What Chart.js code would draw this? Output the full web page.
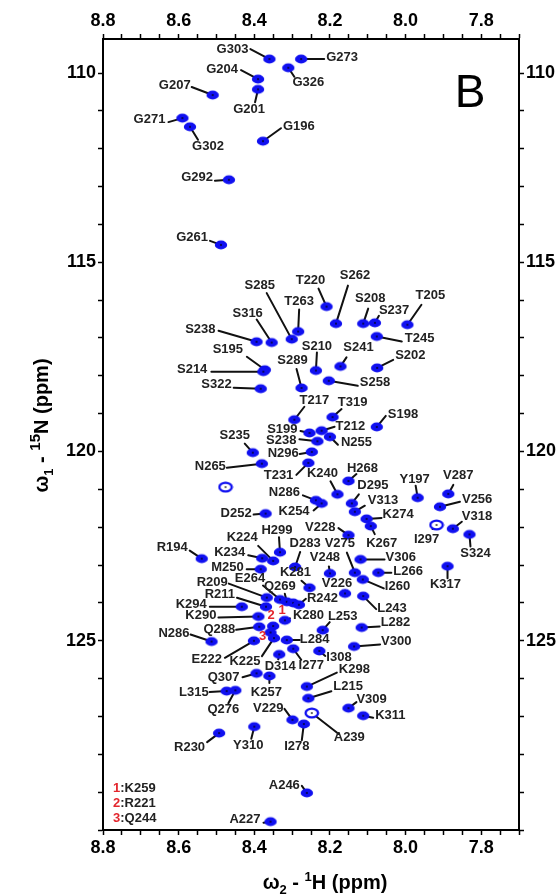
<!DOCTYPE html>
<html>
<head>
<meta charset="utf-8">
<script src="https://cdn.jsdelivr.net/npm/chart.js@4.4.1/dist/chart.umd.min.js"></script>
<style>
  html, body { margin: 0; padding: 0; background: #fff; }
  #wrap { width: 560px; height: 895px; }
</style>
</head>
<body>
<div id="wrap"><canvas id="hsqc" width="560" height="895"></canvas></div>
<script>
// peak assignments, 1H shift (ppm), 15N shift (ppm)
const peakNames = [
  'G303','G273','G326','G204','G201','G207','G271','G302','G196','G292',
  'G261','T220','S262','S208','S237','T205','T263','S285','S316','S238',
  'T245','S241','S202','S195','S214','S210','S258','S289','S322','T217',
  'T319','S198','S199','T212','N255','S238','S235','N296','N265','T231',
  '','H268','K240','Y197','V287','V256','N286','K254','D295','V313',
  'D252','K274','K267','I297','V318','S324','V228','H299','K224','K234',
  'R194','D283','M250','V306','V275','V248','L266','K317','I260','K281',
  'V226','L243','R209','E264','Q269','K259','R242','K294','R211','K290',
  'K280','Q288','R221','Q244','L253','L282','K225','E222','N286','L284',
  'V300','I277','I308','D314','Q307','K257','K298','L315','Q276','L215',
  'V309','K311','A239','V229','I278','Y310','R230','A246','A227'
];
const peakH = [
  8.360, 8.276, 8.310, 8.390, 8.390, 8.510, 8.590, 8.570, 8.377, 8.467,
  8.488, 8.209, 8.184, 8.112, 8.081, 7.995, 8.284, 8.301, 8.354, 8.394,
  8.076, 8.172, 8.075, 8.372, 8.376, 8.237, 8.203, 8.275, 8.383, 8.294,
  8.193, 8.076, 8.254, 8.222, 8.200, 8.233, 8.404, 8.248, 8.380, 8.257,
  8.476, 8.151, 8.180, 7.968, 7.887, 7.909, 8.237, 8.222, 8.142, 8.134,
  8.370, 8.103, 8.092, 7.918, 7.875, 7.831, 8.151, 8.332, 8.350, 8.379,
  8.539, 8.292, 8.383, 8.119, 8.134, 8.200, 8.072, 7.889, 8.113, 8.254,
  8.160, 8.112, 8.367, 8.332, 8.314, 8.297, 8.282, 8.433, 8.369, 8.389,
  8.319, 8.387, 8.350, 8.357, 8.219, 8.116, 8.348, 8.401, 8.513, 8.314,
  8.136, 8.297, 8.228, 8.334, 8.394, 8.360, 8.261, 8.473, 8.450, 8.257,
  8.151, 8.112, 8.248, 8.299, 8.269, 8.400, 8.493, 8.261, 8.357
];
const peakN = [
  109.63, 109.63, 109.86, 110.16, 110.43, 110.58, 111.19, 111.42, 111.80, 112.82,
  114.54, 116.17, 116.62, 116.62, 116.60, 116.65, 116.83, 117.03, 117.12, 117.10,
  116.96, 117.75, 117.79, 117.84, 117.89, 117.86, 118.13, 118.32, 118.34, 119.16,
  119.09, 119.35, 119.51, 119.45, 119.61, 119.73, 120.03, 120.01, 120.32, 120.30,
  120.94, 120.78, 121.13, 121.22, 121.12, 121.46, 121.29, 121.37, 121.37, 121.59,
  121.64, 121.78, 121.97, 121.94, 122.04, 122.19, 122.21, 122.66, 122.89, 122.82,
  122.83, 123.05, 123.11, 122.85, 123.20, 123.22, 123.20, 123.03, 123.38, 123.60,
  123.75, 123.82, 123.86, 123.91, 123.97, 124.00, 124.05, 124.10, 124.10, 124.36,
  124.46, 124.63, 124.61, 124.78, 124.72, 124.65, 124.93, 125.00, 125.02, 124.98,
  125.15, 125.21, 125.27, 125.36, 125.86, 125.93, 126.21, 126.33, 126.31, 126.52,
  126.78, 126.98, 126.91, 127.09, 127.20, 127.27, 127.44, 129.02, 129.78
];
// crowded peaks that carry a red number instead of a name
const numberedPeaks = { K259: '1', R221: '2', Q244: '3' };
const hollowPeaks = ['', 'I297', 'A239'];

// label layout, pixels from the peak: leader end x,y, text x,y, alignment
const labelPos = [
  [-19,-10,-21,-10,'r'], [23,0,25,-2,'l'], [6,9,20,15,'c'], [-17,-9,-20,-10,'r'], [-3,13,-9,20,'c'],
  [-21,-8,-22,-10,'r'], [-14,4,-17,1,'r'], [8,13,18,20,'c'], [18,-13,20,-15,'l'], [-14,1,-16,-2,'r'],
  [-11,-4,-13,-7,'r'], [-8,-18,-16,-26,'c'], [12,-38,19,-48,'c'], [5,-15,7,-25,'c'], [4,-7,4,-12,'l'],
  [14,-20,23,-29,'c'], [1,-22,1,-30,'c'], [-25,-46,-32,-54,'c'], [-15,-23,-24,-29,'c'], [-38,-11,-41,-12,'r'],
  [25,5,28,2,'l'], [6,-9,18,-19,'c'], [16,-8,18,-12,'l'], [-18,-13,-37,-20,'c'], [-52,0,-56,-2,'r'],
  [1,-18,1,-24,'c'], [29,5,31,2,'l'], [-5,-19,-9,-28,'c'], [-27,-1,-29,-4,'r'], [10,-13,20,-19,'c'],
  [9,-8,20,-15,'c'], [9,-11,11,-13,'l'], [-9,-2,-12,-4,'r'], [13,-4,14,-4,'l'], [8,8,11,6,'l'],
  [-18,-2,-21,-1,'r'], [-8,-9,-18,-17,'c'], [-12,2,-13,2,'r'], [-35,4,-36,3,'r'], [-12,12,-15,13,'r'],
  null, [8,-7,14,-13,'c'], [-7,-13,-15,-21,'c'], [-2,-12,-3,-18,'c'], [5,-9,10,-18,'c'],
  [20,-5,22,-7,'l'], [-13,-5,-16,-8,'r'], [-8,7,-12,8,'r'], [7,-9,21,-18,'c'], [10,-6,13,-11,'l'],
  [-12,1,-14,0,'r'], [15,-1,16,-4,'l'], [4,8,11,17,'c'], [-4,4,-10,14,'c'], [9,-7,9,-12,'l'],
  [1,12,6,19,'c'], [-10,-7,-13,-8,'r'], [-1,-15,-3,-22,'c'], [-15,-15,-31,-23,'c'], [-14,-3,-17,-6,'r'],
  [-12,-8,-14,-11,'r'], [5,-15,10,-24,'c'], [-14,0,-17,-2,'r'], [24,0,25,-2,'l'], [-8,-20,-15,-29,'c'],
  [-1,-7,-5,-16,'c'], [13,0,15,-1,'l'], [0,12,-2,18,'c'], [21,9,22,7,'l'], [-8,-7,-14,-15,'c'],
  [0,-3,-8,-10,'c'], [13,13,14,12,'l'], [-38,-14,-39,-15,'r'], [-17,-14,-30,-21,'c'], [-2,-8,-7,-15,'c'],
  [0,0,-11,8,'c'], [7,-6,8,-6,'l'], [-32,0,-35,-2,'r'], [-29,-9,-31,-12,'r'], [-40,1,-42,-1,'r'],
  [5,-2,8,-5,'l'], [-23,3,-24,3,'r'], [0,0,-2,-11,'c'], [0,0,-8,4,'c'], [7,-8,20,-14,'c'],
  [18,-1,19,-5,'l'], [-12,18,-29,23,'c'], [-29,17,-32,19,'r'], [-21,-7,-22,-8,'r'], [13,0,13,-1,'l'],
  [26,-2,27,-5,'l'], [8,11,18,17,'c'], [6,5,7,6,'l'], [-1,5,1,12,'c'], [-14,4,-17,4,'r'],
  [0,7,-3,16,'c'], [30,-14,32,-17,'l'], [-17,1,-18,1,'r'], [-7,13,-12,19,'c'], [23,-7,25,-12,'l'],
  [8,-6,8,-9,'l'], [10,2,12,0,'l'], [27,21,22,24,'l'], [-8,-11,-9,-11,'r'], [-2,16,-7,22,'c'],
  [-3,12,-6,19,'c'], [-12,9,-14,14,'r'], [-5,-7,-7,-7,'r'], [-7,1,-10,-2,'r']
];

const FONT = '"Liberation Sans", Arial, sans-serif';
const BLUE = '#1010f0';

// tick positions: every 0.05 ppm in 1H, every 1 ppm in 15N
const xTickVals = [];
for (let i = 0; i <= 22; i++) xTickVals.push(Math.round((7.7 + i * 0.05) * 100) / 100);
const yTickVals = [];
for (let v = 110; v <= 130; v++) yTickVals.push(v);

function peakImage(hollow) {
  const c = document.createElement('canvas');
  c.width = 16; c.height = 12;
  const g = c.getContext('2d');
  g.beginPath();
  g.ellipse(8, 6, 6.2, 4.4, 0, 0, Math.PI * 2);
  if (hollow) {
    g.fillStyle = '#fff'; g.fill();
    g.lineWidth = 2.4; g.strokeStyle = BLUE; g.stroke();
  } else {
    g.fillStyle = BLUE; g.fill();
  }
  g.strokeStyle = 'rgba(0,0,0,0.75)'; g.lineWidth = 0.8;
  g.beginPath(); g.moveTo(7, 5); g.lineTo(9, 7); g.moveTo(9, 5); g.lineTo(7, 7); g.stroke();
  return c;
}
const solidPeak = peakImage(false);
const hollowPeak = peakImage(true);

const tickFont = { family: FONT, size: 18, weight: 'bold' };
function xAxis(pos, h) {
  return {
    type: 'linear', position: pos, min: 7.7, max: 8.8, reverse: true,
    afterBuildTicks: s => { s.ticks = xTickVals.map(v => ({ value: v })); },
    afterFit: s => { s.height = h; },
    ticks: {
      autoSkip: false, maxRotation: 0, color: '#000', font: tickFont, padding: 2,
      callback: v => (Math.round(v * 100) % 20 === 0 ? v.toFixed(1) : '')
    },
    grid: { drawOnChartArea: false, drawTicks: true, tickLength: 5, tickColor: '#000', tickWidth: 1.5 },
    border: { display: true, color: '#000', width: 2 }
  };
}
function yAxis(pos, w) {
  return {
    type: 'linear', position: pos, min: 109.1, max: 130, reverse: true,
    afterBuildTicks: s => { s.ticks = yTickVals.map(v => ({ value: v })); },
    afterFit: s => { s.width = w; },
    ticks: {
      autoSkip: false, color: '#000', font: tickFont, padding: 2,
      callback: v => (v % 5 === 0 && v < 130 ? String(v) : '')
    },
    grid: { drawOnChartArea: false, drawTicks: true, tickLength: 5, tickColor: '#000', tickWidth: 1.5 },
    border: { display: true, color: '#000', width: 2 }
  };
}

const peakLabels = {
  id: 'peakLabels',
  beforeDraw(chart) {
    const g = chart.ctx;
    g.save(); g.fillStyle = '#fff'; g.fillRect(0, 0, chart.width, chart.height); g.restore();
  },
  beforeDatasetsDraw(chart) {
    const g = chart.ctx, meta = chart.getDatasetMeta(0);
    g.save();
    g.strokeStyle = '#111'; g.lineWidth = 2; g.lineCap = 'round';
    meta.data.forEach((pt, i) => {
      const p = labelPos[i];
      if (!p || (p[0] === 0 && p[1] === 0)) return;
      g.beginPath(); g.moveTo(pt.x, pt.y); g.lineTo(pt.x + p[0], pt.y + p[1]); g.stroke();
    });
    g.restore();
  },
  afterDatasetsDraw(chart) {
    const g = chart.ctx, meta = chart.getDatasetMeta(0), a = chart.chartArea;
    g.save();
    g.textBaseline = 'middle';
    meta.data.forEach((pt, i) => {
      const p = labelPos[i];
      if (!p) return;
      const name = peakNames[i];
      const num = numberedPeaks[name];
      g.font = 'bold 13px ' + FONT;
      g.fillStyle = num ? '#e3262d' : '#222';
      g.textAlign = p[4] === 'r' ? 'right' : p[4] === 'l' ? 'left' : 'center';
      g.fillText(num || name, pt.x + p[2], pt.y + p[3]);
    });
    // key for the red numbers
    g.textAlign = 'left';
    Object.keys(numberedPeaks).forEach((k, j) => {
      const y = a.bottom - 42 + j * 15;
      g.font = 'bold 13px ' + FONT;
      g.fillStyle = '#e3262d';
      g.fillText(numberedPeaks[k], a.left + 10, y);
      const w = g.measureText(numberedPeaks[k]).width;
      g.fillStyle = '#222';
      g.fillText(':' + k, a.left + 10 + w, y);
    });
    // panel letter
    g.fillStyle = '#000';
    g.font = '46px ' + FONT;
    g.textAlign = 'center';
    g.fillText('B', a.right - 49, a.top + 55);
    g.restore();
  },
  afterDraw(chart) {
    const g = chart.ctx, a = chart.chartArea;
    g.save();
    g.fillStyle = '#000';
    g.textBaseline = 'alphabetic';
    g.textAlign = 'left';
    // bottom title: omega2 - 1H (ppm)
    const pieces = [
      ['\u03c9', 'bold 20px', 0], ['2', 'bold 13px', 5], [' - ', 'bold 20px', 0],
      ['1', 'bold 13px', -8], ['H (ppm)', 'bold 20px', 0]
    ];
    let tw = 0;
    pieces.forEach(p => { g.font = p[1] + ' ' + FONT; tw += g.measureText(p[0]).width; });
    let x = (a.left + a.right) / 2 + 14 - tw / 2;
    pieces.forEach(p => {
      g.font = p[1] + ' ' + FONT;
      g.fillText(p[0], x, 889 + p[2]);
      x += g.measureText(p[0]).width;
    });
    // left title: omega1 - 15N (ppm), rotated
    const vpieces = [
      ['\u03c9', 'bold 20px', 0], ['1', 'bold 13px', 5], [' - ', 'bold 20px', 0],
      ['15', 'bold 15px', -8], ['N (ppm)', 'bold 20px', 0]
    ];
    let vw = 0;
    vpieces.forEach(p => { g.font = p[1] + ' ' + FONT; vw += g.measureText(p[0]).width; });
    g.translate(48, (a.top + a.bottom) / 2 - 9);
    g.rotate(-Math.PI / 2);
    let vx = -vw / 2;
    vpieces.forEach(p => {
      g.font = p[1] + ' ' + FONT;
      g.fillText(p[0], vx, p[2]);
      vx += g.measureText(p[0]).width;
    });
    g.restore();
  }
};

new Chart(document.getElementById('hsqc'), {
  type: 'scatter',
  data: {
    datasets: [{
      label: 'peaks',
      data: peakH.map((h, i) => ({ x: h, y: peakN[i] })),
      pointStyle: ctx => (hollowPeaks.includes(peakNames[ctx.dataIndex]) ? hollowPeak : solidPeak),
      pointRadius: 6,
      xAxisID: 'x',
      yAxisID: 'y'
    }]
  },
  options: {
    responsive: false,
    animation: false,
    devicePixelRatio: 1,
    layout: { padding: 0 },
    plugins: { legend: { display: false }, tooltip: { enabled: false } },
    scales: {
      x: xAxis('bottom', 65),
      xTop: xAxis('top', 39),
      y: yAxis('left', 103),
      yRight: yAxis('right', 41)
    }
  },
  plugins: [peakLabels]
});
</script>
</body>
</html>
